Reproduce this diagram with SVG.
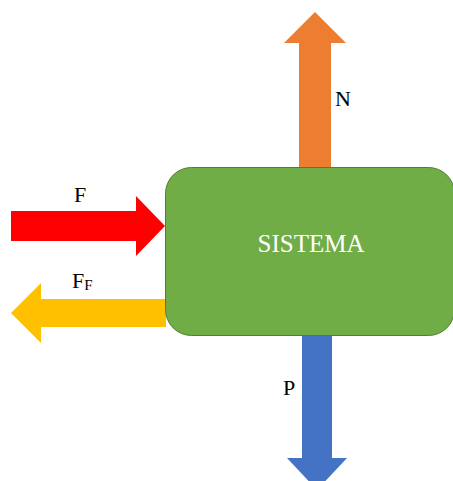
<svg xmlns="http://www.w3.org/2000/svg" width="453" height="481" viewBox="0 0 453 481">
<style>
.lbl{font-family:"Liberation Serif","Times New Roman",serif;font-size:22px;fill:#000}
.arr{stroke:none}
</style>
<rect width="453" height="481" fill="#fff"/>
<g id="connectors">
<polygon class="arr" fill="#ED7D31" points="299,167 299,43 284,43 315,12 346,43 331,43 331,167"/>
<polygon class="arr" fill="#FF0000" points="11,211 136,211 136,196 165,226 136,256 136,241 11,241"/>
<polygon class="arr" fill="#FFC000" points="166,299 41,299 41,283 11,313 41,343 41,327 166,327"/>
<polygon class="arr" fill="#4472C4" points="302,336 332,336 332,458 347,458 317,490 287,458 302,458"/>
</g>
<g id="sistema">
<rect x="165.5" y="167.5" width="289" height="168" rx="26" ry="26" fill="#70AD47" stroke="#507E32" stroke-width="1"/>
<text x="311" y="252" text-anchor="middle" font-family="Liberation Serif, Times New Roman, serif" font-size="25" fill="#fff">SISTEMA</text>
</g>
<g id="label-N"><text class="lbl" x="335" y="106">N</text></g>
<g id="label-F"><text class="lbl" x="80" y="202" text-anchor="middle">F</text></g>
<g id="label-FF"><text class="lbl" x="72" y="288">F<tspan font-size="15" dy="2">F</tspan></text></g>
<g id="label-P"><text class="lbl" x="283" y="395">P</text></g>
</svg>
